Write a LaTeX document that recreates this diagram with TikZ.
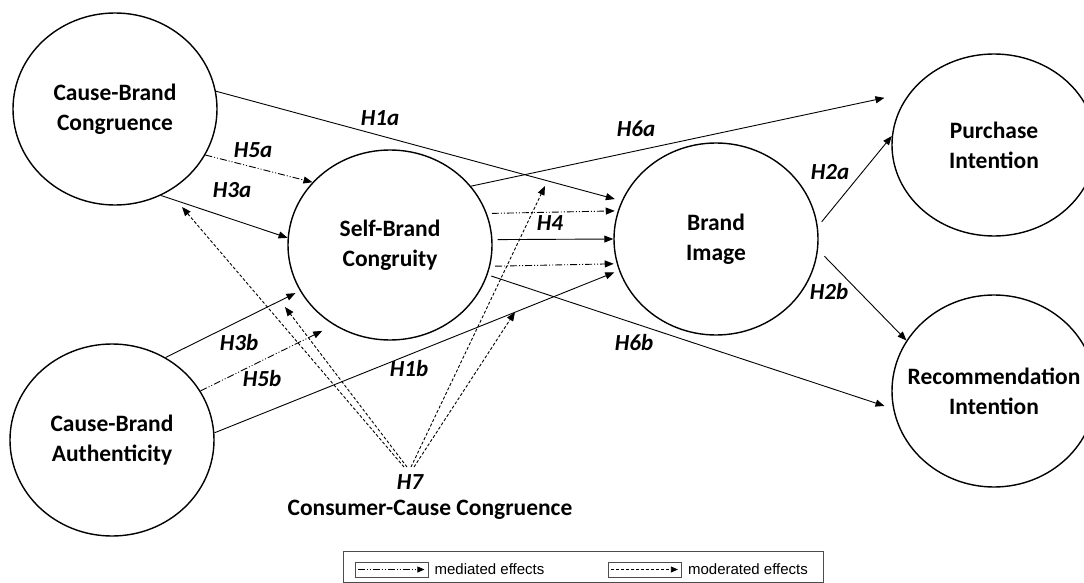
\documentclass[tikz,border=0pt]{standalone}
\usepackage{fontspec}
\setmainfont{Carlito}
\newfontfamily\legendfont{Liberation Sans}
\usetikzlibrary{shapes.geometric, arrows.meta, positioning}
\newcommand{\namefont}{\fontsize{23.5}{30}\selectfont\bfseries}
\newcommand{\hypfont}{\fontsize{23}{27}\selectfont\bfseries\itshape}
\tikzset{
    construct/.style={draw, ellipse, line width=1.4pt, inner sep=0pt, minimum width=204pt, minimum height=192pt,
        label={[font=\namefont, align=center]center:{#1}}},
    hlabel/.style={inner sep=1pt, font=\hypfont},
    direct/.style={line width=0.9pt, -{Triangle[length=9pt,width=7pt]}},
    mediated/.style={direct, dash pattern=on 7pt off 2pt on 1pt off 2pt on 1pt off 2pt},
    moderated/.style={direct, dash pattern=on 3pt off 2pt},
    samplebox/.style={draw, black!70, line width=0.8pt, minimum width=73pt, minimum height=15pt, inner sep=0pt},
    legendtext/.style={inner sep=1pt, font=\legendfont\fontsize{15}{17}\selectfont},
}

\begin{document}
\begin{tikzpicture}[x=1pt, y=-1pt]
        \useasboundingbox (0,0) rectangle (1084,583);

        \node [construct={Cause-Brand\\Congruence}] (CBC) at (115, 109) {};
        \node [construct={Cause-Brand\\Authenticity}] (CBA) at (112, 440) {};
        \node [construct={Self-Brand\\Congruity}, minimum height=190pt] (SBC) at (390, 245) {};
        \node [construct={Brand\\Image}] (BI) at (716, 239) {};
        \node [construct={Purchase\\Intention}, minimum height=182pt] (PI) at (994, 145) {};
        \node [construct={Recommendation\\Intention}] (RI) at (994, 391) {};

        % direct paths
        \draw [direct, shorten >=7pt] (CBC.10) -- (BI.158);
        \draw [direct] (CBC.-62) -- (SBC.176);
        \draw [direct, shorten >=5pt] (CBA.57) -- (SBC.207);
        \draw [direct, shorten >=5pt] (CBA.4) -- (BI.198);
        \draw [direct, shorten <=5pt] (SBC.3) -- (BI.180);
        \draw [direct, shorten >=26pt] (SBC.36) -- (PI.148);
        \draw [direct, shorten <=4pt, shorten >=9pt] (SBC.-17) -- (RI.-170);
        \draw [direct, shorten <=6pt] (BI.7) -- (PI.175);
        \draw [direct, shorten <=9pt] (BI.-6) -- (RI.150);

        % mediated paths
        \draw [mediated] (CBC.-27) -- (SBC.141);
        \draw [mediated, shorten >=13pt] (CBA.29) -- (SBC.235);
        \draw [mediated, shorten <=5pt, shorten >=3pt] (SBC.18) -- (BI.164);
        \draw [mediated, shorten <=5pt, shorten >=3pt] (SBC.-12) -- (BI.-166);

        % moderated paths
        \coordinate (h7) at (409, 467);
        \coordinate (m3a) at (182, 207);
        \coordinate (m3b) at (285, 307);
        \coordinate (m1a) at (545, 186);
        \coordinate (m1b) at (515, 312);
        \draw [moderated] ([xshift=-5pt]h7) -- (m3a);
        \draw [moderated] ([xshift=-2pt]h7) -- (m3b);
        \draw [moderated] ([xshift=2pt]h7) -- (m1a);
        \draw [moderated] ([xshift=5pt]h7) -- (m1b);

        \node [hlabel] (L1a) at (380, 118) {H1a};
        \node [hlabel] (L5a) at (253, 150) {H5a};
        \node [hlabel] (L3a) at (232, 190) {H3a};
        \node [hlabel] (L6a) at (636, 129) {H6a};
        \node [hlabel] (L4) at (550, 223) {H4};
        \node [hlabel] (L2a) at (830, 172) {H2a};
        \node [hlabel] (L2b) at (829, 292) {H2b};
        \node [hlabel] (L6b) at (634, 343) {H6b};
        \node [hlabel] (L3b) at (239, 343) {H3b};
        \node [hlabel] (L5b) at (262, 379) {H5b};
        \node [hlabel] (L1b) at (409, 369) {H1b};
        \node [hlabel] (L7) at (410, 482) {H7};
        \node [font=\namefont] (CCC) at (430, 510) {Consumer-Cause Congruence};

        % legend
        \draw [black!70, line width=0.8pt] (343, 551) rectangle (823, 582);
        \node [samplebox] (medbox) at (391.5, 569.5) {};
        \node [samplebox] (modbox) at (645, 569.5) {};
        \draw [mediated, line width=0.7pt, -{Triangle[length=7pt,width=6pt]}] ([xshift=3pt]medbox.west) -- ([xshift=-4pt]medbox.east);
        \draw [moderated, line width=0.7pt, -{Triangle[length=7pt,width=6pt]}] ([xshift=3pt]modbox.west) -- ([xshift=-4pt]modbox.east);
        \node [legendtext, right=5pt of medbox] (medtext) {mediated effects};
        \node [legendtext, right=5pt of modbox] (modtext) {moderated effects};
    \end{tikzpicture}
\end{document}
